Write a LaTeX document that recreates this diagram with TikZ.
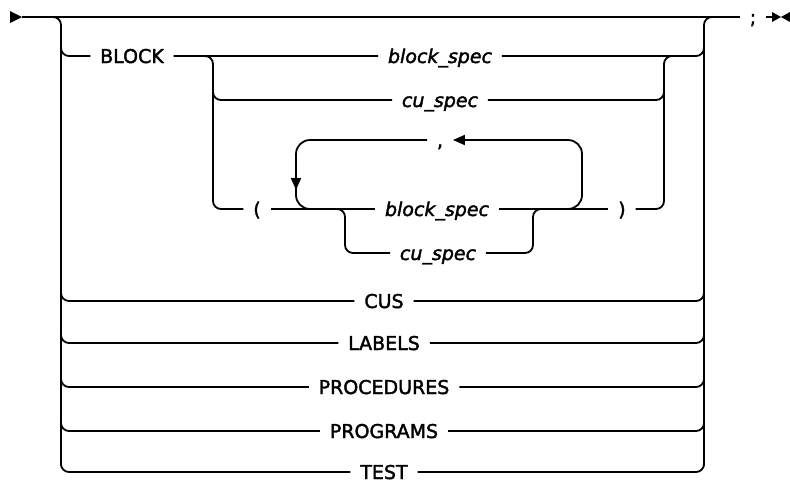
\documentclass[tikz,border=0pt]{standalone}
\usepackage{fontspec}
\setmainfont{DejaVu Sans}[FakeBold=2]
\usepackage{tikz}
\usetikzlibrary{arrows.meta}

\begin{document}
\begin{tikzpicture}[x=1pt,y=-1pt,line width=1.8pt,
    kw/.style={font=\fontsize{19}{21}\selectfont,text height=14pt,text depth=0pt,inner ysep=0pt,inner xsep=9pt},
    var/.style={kw,font=\fontsize{19}{21}\selectfont\itshape},
    rr/.style={rounded corners=8pt},
    loopback/.style={rounded corners=14pt}]
  \useasboundingbox (0,0) rectangle (790,483);
  \coordinate (start) at (22,17);
  \coordinate (stop) at (772,17);
  \node[kw] (semi) at (753,17) {;};
  \node[kw] (block) at (132,56) {BLOCK};
  \node[var] (bspec) at (440,56) {block\_spec};
  \node[var] (cspec) at (440,100) {cu\_spec};
  \node[kw] (comma) at (440,140) {,};
  \node[kw] (lpar) at (257,209) {(};
  \node[var] (lbspec) at (437,209) {block\_spec};
  \node[var] (lcspec) at (438,253) {cu\_spec};
  \node[kw] (rpar) at (622,209) {)};
  \fill (10,11) -- (start) -- (10,23) -- cycle;
  \draw (start) -- (semi) -- (stop);
  \fill (772,12) -- (781,17) -- (772,22) -- cycle;
  \fill (790,12) -- (781,17) -- (790,22) -- cycle;
  \draw[rr] (50,17) -- (61,17) -- (61,466);
  \draw[rr] (704,466) -- (704,17) -- (715,17);
  \draw[rr] (61,44) -- (61,56) -- (block) -- (bspec) -- (704,56) -- (704,44);
  \draw[rr] (205,56) -- (213,56) -- (213,209) -- (lpar);
  \draw[rr] (213,88) -- (213,100) -- (cspec) -- (664,100) -- (664,88);
  \draw[rr] (rpar) -- (664,209) -- (664,56) -- (672,56);
  \draw (lpar) -- (lbspec) -- (rpar);
  \draw[rr] (337,209) -- (345,209) -- (345,253) -- (lcspec) -- (533,253) -- (533,209) -- (541,209);
  \draw[loopback,-{Triangle[length=12pt,width=10pt]}] (560,209) -- (582,209) -- (582,140) -- (comma);
  \draw[loopback,-{Triangle[length=12pt,width=10pt]}] (comma) -- (296,140) -- (296,190);
  \draw[loopback] (296,180) -- (296,209) -- (316,209);
  \foreach \n/\t/\y in {cus/CUS/301,labels/LABELS/343,procs/PROCEDURES/387,
      progs/PROGRAMS/431,test/TEST/472}{
    \node[kw] (\n) at (384,\y) {\t};
    \draw[rr] (61,\y-12) -- (61,\y) -- (\n) -- (704,\y) -- (704,\y-12);
  }
\end{tikzpicture}
\end{document}
